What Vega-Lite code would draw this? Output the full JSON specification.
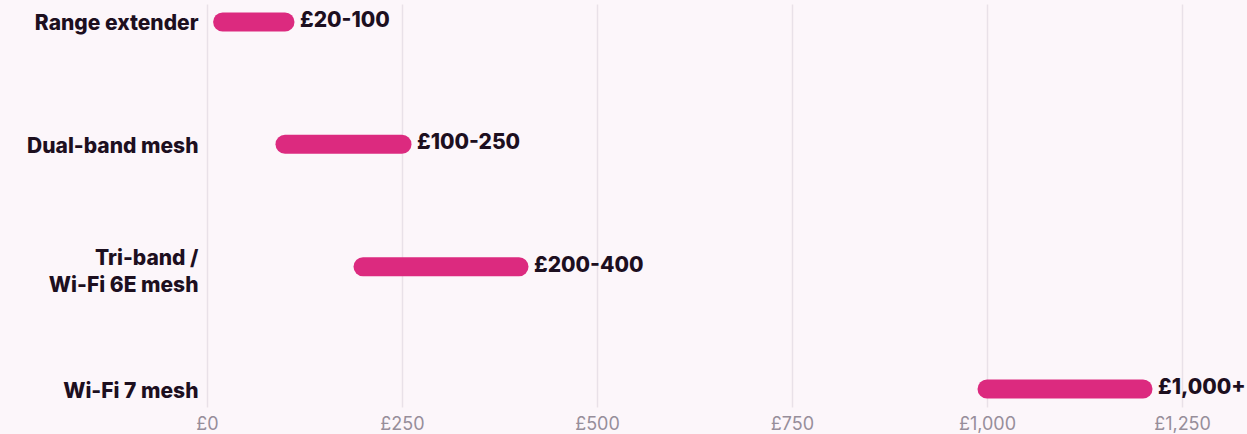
{
  "$schema": "https://vega.github.io/schema/vega-lite/v6.json",
  "width": 1040,
  "height": 403,
  "autosize": {"type": "none"},
  "padding": {"left": 207, "top": 4, "right": 0, "bottom": 27},
  "background": "#fcf6fa",
  "config": {"view": {"stroke": null}, "font": "Inter"},
  "data": {
    "values": [
      {"type": "Range extender", "low": 20, "high": 100, "label": "£20-100"},
      {"type": "Dual-band mesh", "low": 100, "high": 250, "label": "£100-250"},
      {"type": "Tri-band /|Wi-Fi 6E mesh", "low": 200, "high": 400, "label": "£200-400"},
      {"type": "Wi-Fi 7 mesh", "low": 1000, "high": 1200, "label": "£1,000+"}
    ]
  },
  "encoding": {
    "y": {
      "field": "type",
      "type": "nominal",
      "sort": null,
      "scale": {"type": "point", "padding": 0.147},
      "axis": {
        "title": null,
        "domain": false,
        "ticks": false,
        "grid": false,
        "labelPadding": 9,
        "labelFontSize": 21,
        "labelFontWeight": 800,
        "labelColor": "#1d0f1f",
        "labelLineHeight": 27,
        "labelOffset": {"condition": {"test": "indexof(datum.value, '|') >= 0", "value": -8}, "value": 2},
        "labelExpr": "split(datum.label, '|')"
      }
    }
  },
  "layer": [
    {
      "mark": {"type": "rule", "strokeWidth": 19, "strokeCap": "round", "color": "#dc2a7f"},
      "encoding": {
        "x": {
          "field": "low",
          "type": "quantitative",
          "scale": {"domain": [0, 1333.3], "nice": false, "zero": true},
          "axis": {
            "title": null,
            "values": [0, 250, 500, 750, 1000, 1250],
            "domain": false,
            "ticks": false,
            "grid": true,
            "gridColor": "#e9e1e8",
            "gridWidth": 1.5,
            "labelPadding": 8,
            "labelFlush": false,
            "labelFontSize": 18,
            "labelFontWeight": 400,
            "labelColor": "#978e9a",
            "labelExpr": "'£' + format(datum.value, ',')"
          }
        },
        "x2": {"field": "high"}
      }
    },
    {
      "mark": {"type": "text", "align": "left", "baseline": "middle", "dx": 15, "dy": -1, "fontSize": 21, "fontWeight": 800, "color": "#1d0f1f"},
      "encoding": {
        "x": {"field": "high", "type": "quantitative"},
        "text": {"field": "label"}
      }
    }
  ]
}
